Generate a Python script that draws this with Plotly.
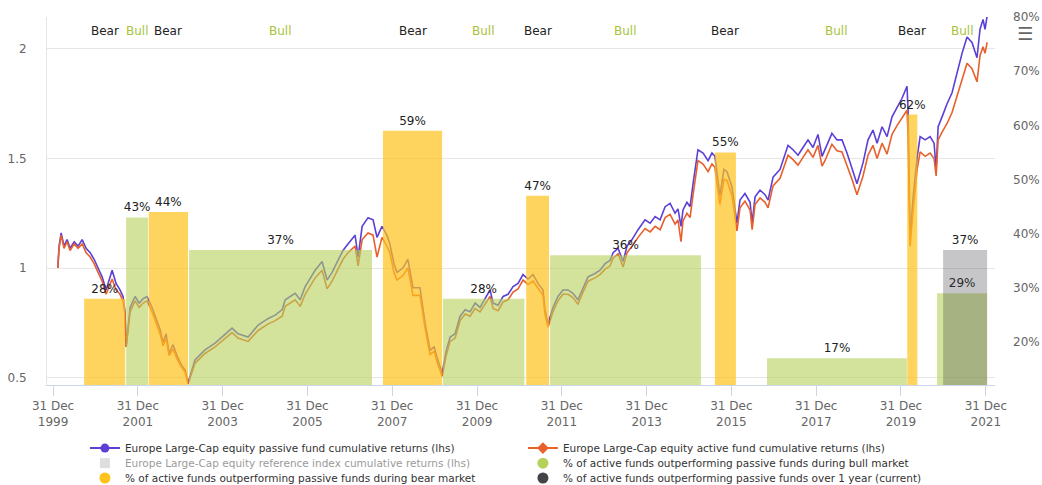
import plotly.graph_objects as go
import pandas as pd

# ---------------- data ----------------
dates = [
 # 2000 - Mar 2003
 '2000-02-10','2000-02-21','2000-03-10','2000-04-04','2000-04-30','2000-05-26','2000-06-30','2000-08-03',
 '2000-09-07','2000-10-11','2000-11-15','2000-12-19','2001-01-22','2001-02-26','2001-04-01','2001-04-27',
 '2001-05-23','2001-06-26','2001-07-30','2001-08-25','2001-09-11','2001-09-21','2001-10-25','2001-12-07',
 '2002-01-11','2002-02-14','2002-03-20','2002-05-02','2002-06-06','2002-07-10','2002-08-05','2002-08-31',
 '2002-09-26','2002-10-30','2002-12-03','2003-01-07','2003-02-11','2003-03-08',
 # 2003 - Oct 2007
 '2003-05-07','2003-08-01','2003-10-27','2004-01-21','2004-03-21','2004-05-12','2004-08-07','2004-11-01',
 '2005-01-27','2005-03-28','2005-05-27','2005-06-22','2005-09-16','2005-10-29','2005-12-11','2006-03-07',
 '2006-05-06','2006-06-18','2006-07-31','2006-09-20','2006-11-02','2006-12-15','2007-02-14','2007-03-12',
 '2007-04-16','2007-06-06','2007-07-19','2007-08-22','2007-10-04',
 # Nov 2007 - Sep 2011
 '2007-11-15','2007-12-11','2008-01-15','2008-02-10','2008-04-01','2008-05-14','2008-06-27','2008-08-26',
 '2008-10-09','2008-11-21','2008-12-26','2009-01-21','2009-03-05','2009-04-09','2009-05-13','2009-06-25',
 '2009-08-07','2009-09-19','2009-11-01','2009-12-14','2010-01-26','2010-03-10','2010-04-22','2010-05-18',
 '2010-06-30','2010-08-12','2010-09-24','2010-11-06','2010-12-19','2011-01-31','2011-03-15','2011-04-27',
 '2011-06-09','2011-07-22','2011-08-08','2011-09-03',
 # Oct 2011 - Aug 2015
 '2011-10-16','2011-11-28','2012-01-10','2012-02-22','2012-04-05','2012-05-18','2012-07-01','2012-08-13',
 '2012-10-12','2012-11-24','2013-01-07','2013-02-19','2013-03-17','2013-04-29','2013-06-11','2013-07-15',
 '2013-08-27','2013-10-18','2013-12-17','2014-01-30','2014-03-14','2014-04-26','2014-06-08','2014-07-21',
 '2014-09-02','2014-09-27','2014-10-23','2014-11-09','2014-12-13','2015-01-09','2015-02-04','2015-03-18',
 '2015-05-01','2015-06-13','2015-07-17','2015-08-11',
 # Sep 2015 - Feb 2016
 '2015-09-23','2015-10-28','2015-11-23','2016-01-05','2016-02-17',
 # Mar 2016 - Feb 2020
 '2016-03-14','2016-04-26','2016-06-09','2016-06-27','2016-07-22','2016-09-03','2016-10-16','2016-11-11',
 '2016-12-24','2017-02-22','2017-05-02','2017-06-14','2017-07-27','2017-09-08','2017-10-21','2017-12-03',
 '2018-01-15','2018-02-19','2018-03-16','2018-05-15','2018-06-28','2018-08-10','2018-09-22','2018-11-04',
 '2018-12-17','2019-02-07','2019-03-22','2019-05-04','2019-06-08','2019-07-21','2019-09-02','2019-10-15',
 '2019-11-27','2020-01-09','2020-02-21',
 # Mar 2020 - Jan 2022
 '2020-03-01','2020-03-10','2020-03-18','2020-04-14','2020-05-18','2020-06-13','2020-07-26','2020-09-07',
 '2020-10-11','2020-10-29','2020-11-15','2020-12-19','2021-01-31','2021-03-15','2021-04-27','2021-06-09',
 '2021-07-22','2021-09-03','2021-10-16','2021-11-11','2021-12-07','2021-12-24','2022-01-11']

passive = [
 1.00,1.10,1.16,1.10,1.13,1.09,1.12,1.10,
 1.13,1.09,1.07,1.04,1.00,0.96,0.90,0.95,
 0.99,0.93,0.90,0.87,0.80,0.64,0.82,0.87,
 0.84,0.86,0.87,0.82,0.77,0.72,0.66,0.70,
 0.61,0.65,0.60,0.56,0.534,0.475,
 0.58,0.626,0.657,0.70,0.726,0.70,0.685,0.74,
 0.77,0.785,0.81,0.855,0.885,0.855,0.915,0.99,
 1.03,0.945,0.98,1.035,1.08,1.11,1.15,1.05,
 1.19,1.23,1.22,1.14,1.19,
 1.15,1.11,1.02,0.98,1.00,1.04,0.91,0.91,
 0.75,0.625,0.64,0.59,0.52,0.62,0.685,0.70,
 0.78,0.81,0.80,0.84,0.82,0.86,0.90,0.84,
 0.83,0.87,0.88,0.915,0.93,0.97,0.95,0.97,
 0.93,0.90,0.81,0.745,
 0.82,0.87,0.90,0.90,0.885,0.855,0.91,0.96,
 0.975,0.99,1.02,1.035,1.07,1.09,1.03,1.10,
 1.13,1.175,1.22,1.205,1.235,1.22,1.28,1.295,
 1.25,1.27,1.19,1.265,1.30,1.28,1.385,1.54,
 1.525,1.49,1.525,1.51,
 1.33,1.45,1.44,1.37,1.205,
 1.31,1.34,1.30,1.205,1.325,1.355,1.335,1.31,
 1.415,1.45,1.56,1.54,1.515,1.55,1.585,1.55,
 1.61,1.51,1.54,1.615,1.585,1.585,1.525,1.46,
 1.385,1.48,1.585,1.63,1.57,1.645,1.60,1.69,
 1.735,1.775,1.83,
 1.72,1.415,1.14,1.325,1.505,1.60,1.585,1.60,
 1.57,1.45,1.645,1.69,1.75,1.80,1.89,1.98,
 2.055,2.03,1.96,2.09,2.135,2.09,2.15]

active = [
 1.00,1.09,1.15,1.09,1.12,1.08,1.11,1.09,
 1.11,1.07,1.05,1.02,0.98,0.94,0.88,0.92,
 0.95,0.90,0.88,0.85,0.79,0.64,0.80,0.85,
 0.82,0.84,0.85,0.80,0.75,0.70,0.645,0.68,
 0.60,0.63,0.585,0.55,0.525,0.47,
 0.565,0.61,0.64,0.68,0.705,0.68,0.665,0.715,
 0.745,0.76,0.78,0.825,0.855,0.825,0.88,0.955,
 0.99,0.905,0.94,0.995,1.04,1.07,1.10,1.01,
 1.13,1.16,1.15,1.05,1.14,
 1.10,1.07,0.98,0.945,0.965,1.00,0.875,0.875,
 0.725,0.605,0.62,0.57,0.505,0.60,0.665,0.68,
 0.76,0.79,0.78,0.815,0.80,0.835,0.87,0.815,
 0.805,0.845,0.855,0.89,0.905,0.945,0.925,0.94,
 0.905,0.875,0.79,0.73,
 0.80,0.85,0.88,0.88,0.865,0.835,0.89,0.94,
 0.955,0.97,0.995,1.01,1.045,1.065,1.005,1.07,
 1.10,1.14,1.18,1.165,1.19,1.175,1.23,1.245,
 1.20,1.22,1.12,1.215,1.25,1.23,1.335,1.49,
 1.475,1.44,1.475,1.46,
 1.29,1.405,1.40,1.33,1.17,
 1.275,1.305,1.265,1.175,1.29,1.32,1.30,1.275,
 1.375,1.41,1.515,1.495,1.47,1.505,1.54,1.505,
 1.56,1.465,1.49,1.565,1.535,1.53,1.47,1.405,
 1.335,1.42,1.515,1.56,1.50,1.57,1.52,1.61,
 1.65,1.685,1.72,
 1.61,1.35,1.10,1.27,1.45,1.53,1.51,1.525,
 1.50,1.42,1.585,1.62,1.66,1.71,1.78,1.86,
 1.935,1.91,1.85,1.97,2.01,1.98,2.03]

assert len(dates) == len(passive) == len(active), (len(dates), len(passive), len(active))

bear_start = ['2000-09-24','2002-04-03','2007-10-12','2011-02-27','2015-08-11','2020-02-23']
bear_end   = ['2001-09-13','2003-03-08','2009-03-05','2011-09-12','2016-02-08','2020-05-20']
bear_pct   = [28, 44, 59, 47, 55, 62]

bull_start = ['2001-09-21','2003-03-17','2009-03-12','2011-09-21','2016-11-02','2020-11-06']
bull_end   = ['2002-03-28','2007-07-10','2011-02-12','2015-04-13','2020-02-20','2022-01-11']
bull_pct   = [43, 37, 28, 36, 17, 29]

current_start = ['2020-12-28']
current_end   = ['2022-01-11']
current_pct   = [37]

tick_dates = ['1999-12-31','2001-12-31','2003-12-31','2005-12-31','2007-12-31','2009-12-31',
              '2011-12-31','2013-12-31','2015-12-31','2017-12-31','2019-12-31','2021-12-31']
tick_text = ['31 Dec<br>' + d[:4] for d in tick_dates]

names = ['Europe Large-Cap equity passive fund cumulative returns (lhs)',
         'Europe Large-Cap equity active fund cumulative returns (lhs)',
         'Europe Large-Cap equity reference index cumulative returns (lhs)',
         '% of active funds outperforming passive funds during bull market',
         '% of active funds outperforming passive funds during bear market',
         '% of active funds outperforming passive funds over 1 year (current)']

# ---------------- styling ----------------
C_PASSIVE = '#5b3fd6'
C_ACTIVE = '#e8602c'
C_REF = '#bdbdbd'
C_BULL = '#b5d15a'
C_BEAR = '#ffc21a'
C_CUR = '#434348'
F_BULL = 'rgba(181,209,90,0.6)'
F_BEAR = 'rgba(255,194,26,0.7)'
F_CUR = 'rgba(67,67,72,0.3)'
FONT = 'DejaVu Sans'


def spans(starts, ends):
    s = pd.to_datetime(starts)
    e = pd.to_datetime(ends)
    mids = s + (e - s) / 2
    widths = [(b - a).total_seconds() * 1000 for a, b in zip(s, e)]
    return mids, widths


fig = go.Figure()

# lines (base subplot -> drawn beneath the bars)
fig.add_trace(go.Scatter(x=dates, y=passive, mode='lines', line=dict(color=C_PASSIVE, width=1.6),
                         showlegend=False, yaxis='y', hoverinfo='skip'))
fig.add_trace(go.Scatter(x=dates, y=active, mode='lines', line=dict(color=C_ACTIVE, width=1.6),
                         showlegend=False, yaxis='y', hoverinfo='skip'))

# bars (overlaid subplot -> drawn above the lines, translucent)
txtfont = dict(color='#222222', size=12, family=FONT)
bx, bw = spans(bull_start, bull_end)
fig.add_trace(go.Bar(x=bx, y=bull_pct, width=bw, yaxis='y2', marker=dict(color=F_BULL, line=dict(width=0)),
                     text=[f'{v}%' for v in bull_pct], textposition='outside', textfont=txtfont,
                     constraintext='none', cliponaxis=False, showlegend=False, hoverinfo='skip'))
ax, aw = spans(bear_start, bear_end)
fig.add_trace(go.Bar(x=ax, y=bear_pct, width=aw, yaxis='y2', marker=dict(color=F_BEAR, line=dict(width=0)),
                     text=[f'{v}%' for v in bear_pct], textposition='outside', textfont=txtfont,
                     constraintext='none', cliponaxis=False, showlegend=False, hoverinfo='skip'))
cx, cw = spans(current_start, current_end)
fig.add_trace(go.Bar(x=cx, y=current_pct, width=cw, yaxis='y2', marker=dict(color=F_CUR, line=dict(width=0)),
                     text=[f'{v}%' for v in current_pct], textposition='outside', textfont=txtfont,
                     constraintext='none', cliponaxis=False, showlegend=False, hoverinfo='skip'))

# legend entries (three one-row legends, two entries each)
leg = [
    dict(mode='lines+markers', line=dict(color=C_PASSIVE, width=2), marker=dict(symbol='circle', size=9, color=C_PASSIVE)),
    dict(mode='lines+markers', line=dict(color=C_ACTIVE, width=2), marker=dict(symbol='diamond', size=9, color=C_ACTIVE)),
    dict(mode='markers', marker=dict(symbol='square', size=10, color=C_REF), visible='legendonly'),
    dict(mode='markers', marker=dict(symbol='circle', size=11, color=C_BULL)),
    dict(mode='markers', marker=dict(symbol='circle', size=11, color=C_BEAR)),
    dict(mode='markers', marker=dict(symbol='circle', size=11, color=C_CUR)),
]
leg_ids = ['legend', 'legend', 'legend2', 'legend2', 'legend3', 'legend3']
for nm, kw, lid in zip(names, leg, leg_ids):
    fig.add_trace(go.Scatter(x=[None], y=[None], name=nm, yaxis='y', legend=lid, **kw))

# Bear / Bull labels on top
annotations = []
for xs, lab, col in [(ax, 'Bear', '#222222'), (bx, 'Bull', '#a8c23a')]:
    for xm in xs:
        annotations.append(dict(x=xm, y=0.962, xref='x', yref='paper', text=lab, showarrow=False,
                                yanchor='middle', xanchor='center',
                                font=dict(family=FONT, size=12, color=col)))
annotations.append(dict(x=1.032, y=0.955, xref='paper', yref='paper', text='☰', showarrow=False,
                        xanchor='center', yanchor='middle',
                        font=dict(family=FONT, size=18, color='#666666')))


def legend_row(ypos):
    return dict(orientation='h', x=0.04, xanchor='left', y=ypos, yanchor='top',
                entrywidth=393, entrywidthmode='pixels',
                font=dict(family=FONT, size=10.5, color='#333333'),
                bgcolor='rgba(0,0,0,0)', itemclick=False, itemdoubleclick=False)


fig.update_layout(
    width=1042, height=485,
    margin=dict(l=47, r=47, t=17, b=100, autoexpand=False),
    paper_bgcolor='white', plot_bgcolor='white',
    font=dict(family=FONT, size=12, color='#666666'),
    barmode='overlay',
    showlegend=True,
    hovermode=False,
    legend=legend_row(-0.132),
    legend2=legend_row(-0.173),
    legend3=legend_row(-0.2133),
    xaxis=dict(type='date', range=['1999-11-09', '2022-03-20'], tickvals=tick_dates, ticktext=tick_text,
               showgrid=False, showline=True, linecolor='#ccd6eb', linewidth=1,
               ticks='outside', ticklen=10, tickcolor='#ccd6eb', tickfont=dict(size=12, color='#666666'),
               zeroline=False),
    yaxis=dict(range=[0.466, 2.146], tickvals=[0.5, 1, 1.5, 2], ticktext=['0.5', '1', '1.5', '2'],
               showgrid=True, gridcolor='#e6e6e6', zeroline=False, showline=True, linecolor='#e6e6e6',
               tickfont=dict(size=12, color='#666666'), ticklabelstandoff=17),
    yaxis2=dict(overlaying='y', side='right', range=[12.06, 80], tickvals=[20, 30, 40, 50, 60, 70, 80],
                ticktext=['20%', '30%', '40%', '50%', '60%', '70%', '80%'], showgrid=False, zeroline=False,
                tickfont=dict(size=12, color='#666666'), ticklabelstandoff=17),
    annotations=annotations,
)

fig.write_html('out.html', config={'displayModeBar': False},
               post_script="document.body.style.margin='0px';")
